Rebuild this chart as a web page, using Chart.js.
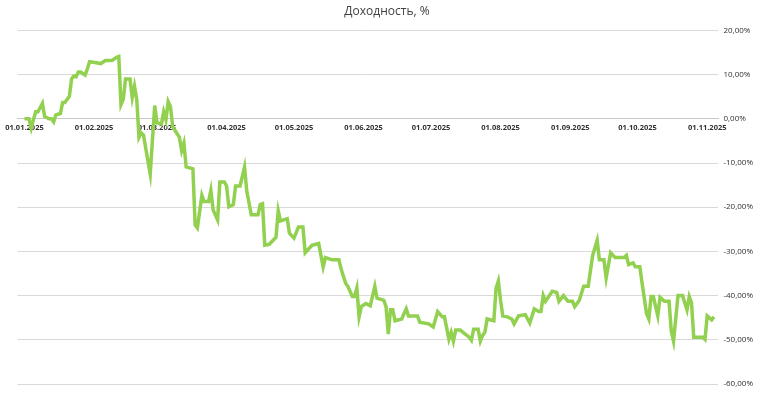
<!DOCTYPE html><html><head><meta charset="utf-8">
<script src="https://cdn.jsdelivr.net/npm/chart.js@4"></script>
<style>html,body{margin:0;background:#fff}#w{width:758px;height:414px}</style></head><body><div id="w"><canvas id="c"></canvas></div>
<script>
const days=[0,2,3,4,5,6,8,9,11,12,13,14,16,17,18,20,21,22,23,24,25,27,28,29,32,34,36,39,41,42,43,44,45,47,48,49,50,51,52,53,56,58,59,61,62,63,64,65,66,69,70,71,72,75,76,77,79,80,82,83,84,86,87,89,90,91,93,94,96,98,99,101,104,105,106,107,109,112,113,114,117,118,120,122,124,125,128,131,133,134,137,139,140,141,143,144,146,147,148,149,150,152,154,156,157,160,161,162,163,164,165,168,169,170,171,175,176,180,182,184,186,187,189,190,191,192,194,198,199,200,202,203,204,205,206,209,210,211,212,213,215,217,218,220,223,225,227,229,230,231,232,235,237,238,240,242,244,245,247,249,251,253,255,256,258,259,261,263,267,268,269,271,272,274,275,277,278,279,280,282,283,285,287,288,289,291,293,295,296,297,298,302,303,304,306,307];
const returns=[0,0,-2.1,-0.2,1.6,1.6,3.5,0.5,0,0,-0.7,0.9,1.2,3.7,3.7,5.1,9.0,9.7,9.5,10.6,10.6,9.9,11.3,12.9,12.7,12.5,13.2,13.2,13.9,14.1,3.2,4.4,9.0,9.0,4.8,7.4,4.4,-4.2,-3.2,-3.7,-12.5,3.0,-0.9,-1.2,1.6,-0.2,3.9,2.8,-1.8,-4.2,-7.2,-5.5,-10.9,-11.3,-24.0,-24.7,-17.3,-18.7,-18.7,-16.2,-20.6,-22.9,-14.3,-14.3,-15.2,-19.9,-19.4,-15.2,-15.2,-10.9,-16.4,-21.7,-21.7,-19.4,-19.2,-28.6,-28.4,-26.8,-20.8,-23.1,-22.6,-25.9,-27.0,-24.5,-24.5,-30.3,-28.6,-28.2,-33.5,-31.4,-31.9,-31.9,-31.9,-34.0,-37.2,-37.9,-40.2,-40.2,-38.3,-44.8,-42.5,-41.8,-42.3,-37.9,-40.6,-41.1,-42.5,-48.7,-43.2,-43.2,-45.7,-45.3,-44.1,-43.0,-44.6,-44.6,-46.0,-46.4,-47.1,-43.6,-44.8,-44.8,-49.9,-48.3,-50.3,-47.8,-47.8,-49.4,-50.1,-47.6,-47.6,-50.3,-49.0,-48.3,-45.3,-45.7,-38.3,-36.7,-41.1,-44.6,-44.8,-45.3,-46.4,-44.6,-44.3,-46.2,-43.0,-43.6,-43.6,-40.0,-41.3,-39.0,-39.3,-41.3,-40.0,-41.3,-41.3,-42.5,-41.1,-37.9,-37.9,-30.9,-27.5,-31.9,-31.9,-36.0,-30.3,-31.4,-31.4,-30.9,-33.0,-32.6,-33.5,-33.5,-37.2,-44.1,-45.3,-40.2,-40.2,-44.6,-40.4,-41.3,-41.3,-48.0,-50.3,-40.0,-40.0,-43.2,-40.2,-41.6,-49.4,-49.4,-49.9,-44.6,-45.5,-44.8];
const monthDays=[0,31,59,90,120,151,181,212,243,273,304];
const monthLabels=['01.01.2025','01.02.2025','01.03.2025','01.04.2025','01.05.2025','01.06.2025','01.07.2025','01.08.2025','01.09.2025','01.10.2025','01.11.2025'];
const yTicks=[20,10,0,-10,-20,-30,-40,-50,-60];
new Chart(document.getElementById('c'),{type:'line',
data:{datasets:[{data:days.map((d,i)=>({x:d,y:returns[i]})),borderColor:'#92d050',borderWidth:3.5,pointRadius:0,tension:0,fill:false}]},
options:{responsive:true,maintainAspectRatio:false,animation:false,
layout:{padding:{left:16,right:0,top:0,bottom:30}},
plugins:{legend:{display:false},tooltip:{enabled:false},
title:{display:true,text:'Доходность, %',color:'#404040',font:{family:'Open Sans',size:12,weight:'normal'},padding:{top:4,bottom:12}}},
scales:{
x:{type:'linear',position:{y:0},min:-3,max:309,
afterBuildTicks:a=>{a.ticks=monthDays.map(v=>({value:v}));},
ticks:{autoSkip:false,maxRotation:0,color:'#303030',font:{family:'Open Sans',size:7.5,weight:'bold'},padding:5,callback:(v)=>monthLabels[monthDays.indexOf(v)]},
grid:{display:false,drawTicks:false},border:{color:'#c8c8c8',width:1}},
y:{position:'right',min:-60,max:20,
afterBuildTicks:a=>{a.ticks=yTicks.map(v=>({value:v}));},
ticks:{color:'#303030',font:{family:'Open Sans',size:8},padding:5,callback:v=>v.toFixed(2).replace('.',',')+'%'},
grid:{color:'#d9d9d9',drawTicks:false},border:{display:false}}}}});
</script></body></html>
